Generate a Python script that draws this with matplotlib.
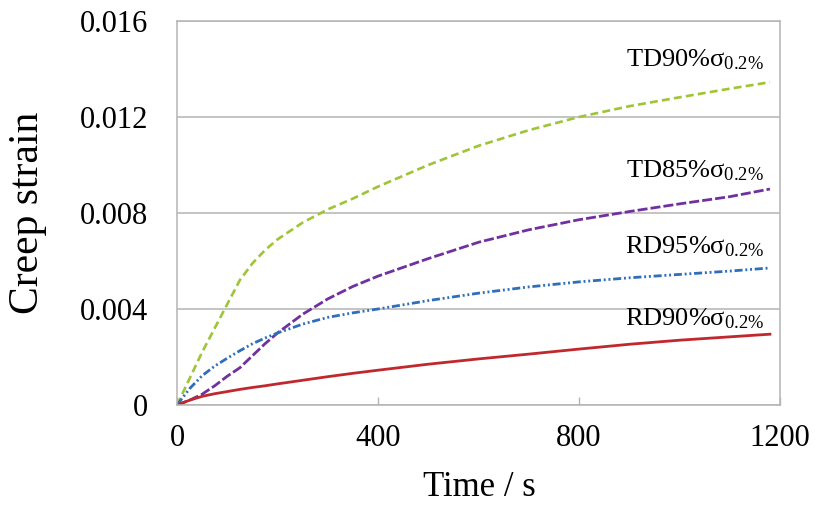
import matplotlib
matplotlib.use("Agg")
import matplotlib.pyplot as plt

# data
time_s = [0, 25, 50, 75, 100, 125, 150, 175, 200, 250, 300, 350, 400,
          500, 600, 700, 800, 900, 1000, 1100, 1180]
td90 = [0, 0.0011, 0.0022, 0.0032, 0.0042, 0.0052, 0.0059, 0.00645, 0.0069, 0.0076, 0.00815,
        0.0086, 0.0091, 0.0100, 0.0108, 0.01145, 0.0120, 0.01245, 0.01282, 0.01318, 0.01345]
td85 = [0, 0.0002, 0.00045, 0.0008, 0.0012, 0.00155, 0.00205, 0.00255, 0.0030, 0.00378, 0.00442,
        0.00494, 0.00537, 0.0061, 0.00678, 0.0073, 0.00772, 0.00806, 0.00838, 0.00868, 0.0090]
rd95 = [0, 0.00068, 0.00122, 0.00162, 0.00195, 0.00226, 0.00255, 0.00279, 0.0030, 0.00337, 0.00365,
        0.00384, 0.0040, 0.00435, 0.00466, 0.00492, 0.00513, 0.0053, 0.00544, 0.00558, 0.00571]
rd90 = [0, 0.0002, 0.00036, 0.00047, 0.00056, 0.00065, 0.00073, 0.0008, 0.00088, 0.00103, 0.00118,
        0.00132, 0.00145, 0.0017, 0.00192, 0.00212, 0.00233, 0.00253, 0.0027, 0.00284, 0.00295]

labels = [r"$\mathrm{TD90\%\sigma_{0.2\%}}$", r"$\mathrm{TD85\%\sigma_{0.2\%}}$",
          r"$\mathrm{RD95\%\sigma_{0.2\%}}$", r"$\mathrm{RD90\%\sigma_{0.2\%}}$"]
label_y = [0.0141, 0.00947, 0.00632, 0.0033]
label_x = 1168

x_ticks = [0, 400, 800, 1200]
y_ticks = [0, 0.004, 0.008, 0.012, 0.016]
y_tick_labels = ["0", "0.004", "0.008", "0.012", "0.016"]

plt.rcParams["font.family"] = ["Liberation Serif", "DejaVu Serif"]
plt.rcParams["mathtext.fontset"] = "custom"
plt.rcParams["mathtext.rm"] = "Liberation Serif"
plt.rcParams["mathtext.it"] = "Liberation Serif:italic"

grey = "#b4b4b4"

fig = plt.figure(figsize=(8.15, 5.07), dpi=100)
ax = fig.add_axes([177/815, 1 - 405/507, (780 - 177)/815, (405 - 21)/507])

ax.plot(time_s, td90, color="#9ec437", lw=1.9, dashes=(3.0, 1.6))
ax.plot(time_s, td85, color="#7030a0", lw=2.0, dashes=(3.6, 1.1))
ax.plot(time_s, rd95, color="#2f6eba", lw=2.0, dashes=(2.9, 1.0, 0.7, 1.0, 0.7, 1.0))
ax.plot(time_s, rd90, color="#c0282d", lw=2.0)

for lab, ly in zip(labels, label_y):
    ax.text(label_x, ly, lab, ha="right", va="baseline", fontsize=19)

ax.set_xlim(0, 1200)
ax.set_ylim(0, 0.016)
ax.set_xticks(x_ticks)
ax.set_xticklabels([str(v) for v in x_ticks])
ax.set_yticks(y_ticks)
ax.set_yticklabels(y_tick_labels)

ax.grid(axis="y", color=grey, lw=1.1)
ax.set_axisbelow(True)
for sp in ax.spines.values():
    sp.set_color(grey)
    sp.set_linewidth(1.1)

ax.tick_params(axis="x", direction="in", length=6, width=1, color=grey,
               labelsize=22, pad=14)
ax.tick_params(axis="y", length=0, labelsize=22, pad=21)

fig.text(28/815, 1 - 213/507, "Creep strain", rotation=90, ha="center",
         va="center", fontsize=30)
fig.text(479/815, 1 - 488/507, "Time / s", ha="center", va="center", fontsize=25)

fig.savefig("out.png", dpi=100)
